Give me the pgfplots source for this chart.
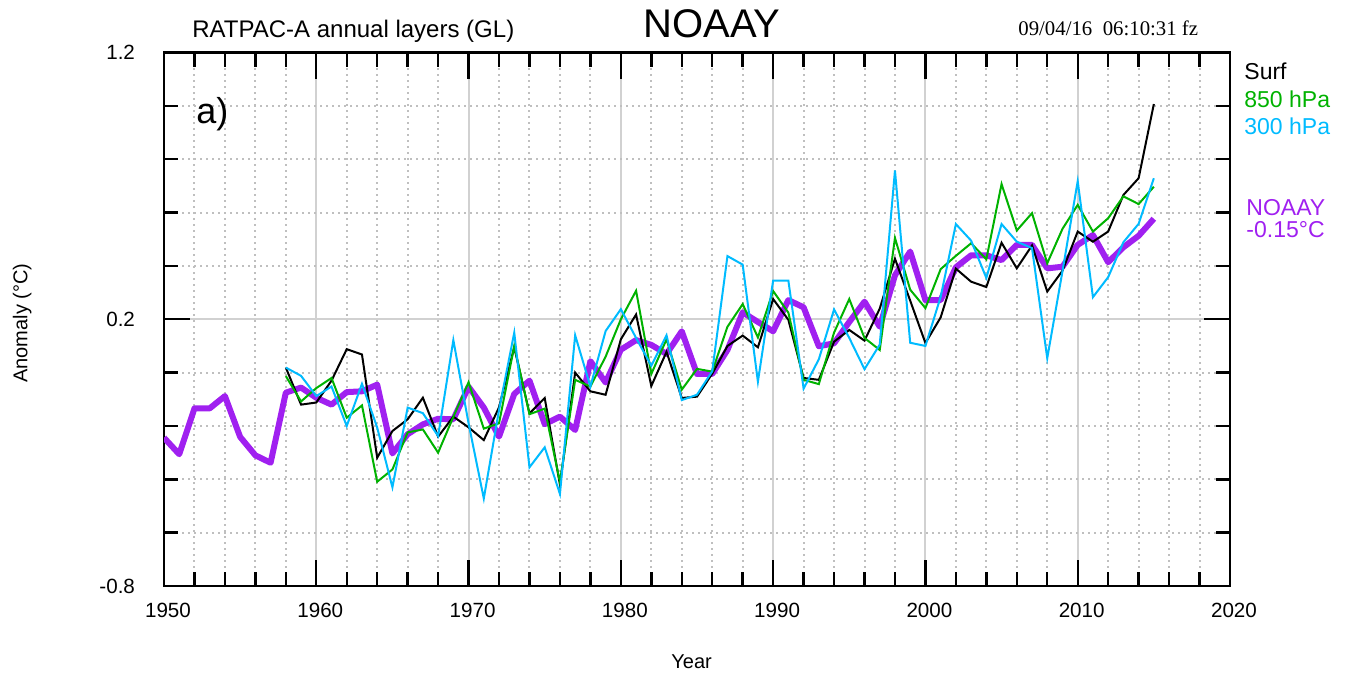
\documentclass[border=0pt]{standalone}
\usepackage{fontspec}
\setmainfont{Liberation Sans}
\newfontfamily\timesfont{Liberation Serif}
\usepackage{pgfplots}
\usepackage{pgfplotstable}
\pgfplotsset{compat=1.18}

\definecolor{hpaE}{RGB}{0,178,0}
\definecolor{hpaT}{RGB}{0,187,255}
\definecolor{noaa}{RGB}{160,32,240}

%% annual anomalies (degC)
\pgfplotstableread{
year val
1950 -0.244
1951 -0.306
1952 -0.134
1953 -0.134
1954 -0.088
1955 -0.241
1956 -0.310
1957 -0.338
1958 -0.075
1959 -0.056
1960 -0.094
1961 -0.120
1962 -0.073
1963 -0.070
1964 -0.045
1965 -0.303
1966 -0.231
1967 -0.194
1968 -0.173
1969 -0.175
1970 -0.053
1971 -0.131
1972 -0.240
1973 -0.080
1974 -0.030
1975 -0.193
1976 -0.165
1977 -0.215
1978 0.043
1979 -0.037
1980 0.086
1981 0.122
1982 0.104
1983 0.070
1984 0.155
1985 -0.005
1986 -0.005
1987 0.085
1988 0.226
1989 0.190
1990 0.155
1991 0.272
1992 0.245
1993 0.099
1994 0.110
1995 0.190
1996 0.266
1997 0.172
1998 0.365
1999 0.454
2000 0.272
2001 0.272
2002 0.395
2003 0.440
2004 0.440
2005 0.422
2006 0.479
2007 0.479
2008 0.391
2009 0.397
2010 0.479
2011 0.516
2012 0.414
2013 0.470
2014 0.513
2015 0.577
}\noaaytab

\pgfplotstableread{
year val
1958 0.019
1959 -0.120
1960 -0.112
1961 -0.030
1962 0.088
1963 0.068
1964 -0.319
1965 -0.219
1966 -0.175
1967 -0.094
1968 -0.240
1969 -0.165
1970 -0.205
1971 -0.253
1972 -0.130
1973 0.095
1974 -0.153
1975 -0.095
1976 -0.420
1977 0.000
1978 -0.070
1979 -0.083
1980 0.125
1981 0.218
1982 -0.050
1983 0.078
1984 -0.095
1985 -0.090
1986 -0.004
1987 0.100
1988 0.139
1989 0.095
1990 0.276
1991 0.198
1992 -0.020
1993 -0.027
1994 0.116
1995 0.160
1996 0.120
1997 0.240
1998 0.427
1999 0.270
2000 0.111
2001 0.207
2002 0.390
2003 0.341
2004 0.321
2005 0.487
2006 0.391
2007 0.477
2008 0.304
2009 0.382
2010 0.529
2011 0.491
2012 0.529
2013 0.666
2014 0.729
2015 1.007
}\surftab

\pgfplotstableread{
year val
1958 -0.013
1959 -0.108
1960 -0.058
1961 -0.020
1962 -0.169
1963 -0.123
1964 -0.409
1965 -0.363
1966 -0.224
1967 -0.213
1968 -0.300
1969 -0.166
1970 -0.036
1971 -0.210
1972 -0.190
1973 0.100
1974 -0.156
1975 -0.135
1976 -0.410
1977 -0.027
1978 -0.052
1979 0.060
1980 0.200
1981 0.307
1982 -0.005
1983 0.125
1984 -0.064
1985 0.014
1986 0.004
1987 0.172
1988 0.257
1989 0.132
1990 0.306
1991 0.225
1992 -0.027
1993 -0.043
1994 0.150
1995 0.276
1996 0.130
1997 0.085
1998 0.505
1999 0.311
2000 0.242
2001 0.388
2002 0.438
2003 0.485
2004 0.425
2005 0.707
2006 0.533
2007 0.598
2008 0.410
2009 0.539
2010 0.629
2011 0.529
2012 0.579
2013 0.661
2014 0.632
2015 0.697
}\hpaEtab

\pgfplotstableread{
year val
1958 0.019
1959 -0.012
1960 -0.088
1961 -0.052
1962 -0.200
1963 -0.042
1964 -0.206
1965 -0.430
1966 -0.131
1967 -0.152
1968 -0.238
1969 0.122
1970 -0.190
1971 -0.472
1972 -0.140
1973 0.150
1974 -0.355
1975 -0.280
1976 -0.455
1977 0.140
1978 -0.052
1979 0.156
1980 0.238
1981 0.130
1982 0.026
1983 0.140
1984 -0.103
1985 -0.083
1986 0.005
1987 0.437
1988 0.405
1989 -0.034
1990 0.345
1991 0.345
1992 -0.060
1993 0.050
1994 0.237
1995 0.130
1996 0.013
1997 0.105
1998 0.758
1999 0.112
2000 0.100
2001 0.284
2002 0.557
2003 0.495
2004 0.355
2005 0.557
2006 0.491
2007 0.467
2008 0.054
2009 0.380
2010 0.718
2011 0.283
2012 0.358
2013 0.489
2014 0.558
2015 0.729
}\hpaTtab

\begin{document}
\begin{tikzpicture}
\useasboundingbox (0,0) rectangle (676.5pt,339.5pt);

%% header
\node[anchor=base west, inner sep=0pt, font=\fontsize{12}{14}\selectfont] at (96pt,320.5pt) {RATPAC-A annual layers (GL)};
\node[anchor=base, inner sep=0pt, font=\fontsize{20}{24}\selectfont] at (356pt,320.5pt) {NOAAY};
\node[anchor=base west, inner sep=0pt, font=\timesfont\fontsize{10.4}{12}\selectfont] at (509pt,321.5pt) {09/04/16\ \ 06:10:31 fz};

\begin{axis}[
    at={(82pt,46.5pt)}, anchor=south west,
    scale only axis,
    width=533pt, height=266.7pt,
    xmin=1950, xmax=2020,
    ymin=-0.8, ymax=1.2,
    xtick={1950,1960,1970,1980,1990,2000,2010,2020},
    xticklabels={1950,1960,1970,1980,1990,2000,2010,2020},
    minor x tick num=4,
    ytick={-0.8,0.2,1.2},
    yticklabels={-0.8,0.2,1.2},
    minor ytick={-0.6,-0.4,-0.2,0,0.4,0.6,0.8,1.0},
    grid=both,
    major grid style={solid, black!18, line width=1pt},
    minor grid style={black!25, line width=1pt, dash pattern=on 1pt off 2pt},
    major tick length=13pt,
    minor tick length=7pt,
    tick style={black, line width=1.2pt},
    axis line style={line width=1.2pt},
    tick label style={font=\fontsize{10.3}{12}\selectfont},
    xticklabel style={yshift=-5pt, xshift=2pt},
    yticklabel style={xshift=-11pt},
    xlabel={Year},
    ylabel={Anomaly (°C)},
    label style={font=\fontsize{12}{14}\selectfont},
    every axis x label/.style={at={(axis description cs:0.495,0)}, anchor=center, yshift=-38pt},
    every axis y label/.style={at={(axis description cs:-0.133,0.493)}, anchor=center, rotate=90},
]
\addplot[noaa, line width=3pt, line join=round] table[x=year, y=val]{\noaaytab};
\addplot[black, line width=1pt] table[x=year, y=val]{\surftab};
\addplot[hpaE, line width=1pt] table[x=year, y=val]{\hpaEtab};
\addplot[hpaT, line width=1pt] table[x=year, y=val]{\hpaTtab};
\node[anchor=base west, inner sep=0pt, font=\fontsize{18}{20}\selectfont] at (axis description cs:0.03,0.868) {a)};
\end{axis}

%% series key on the right
\begin{scope}[every node/.style={anchor=base west, inner sep=0pt, font=\fontsize{11.5}{13}\selectfont}]
\node at (622pt,299.5pt) {Surf};
\node[text=hpaE] at (622pt,285.5pt) {850 hPa};
\node[text=hpaT] at (622pt,272pt) {300 hPa};
\node[text=noaa] at (623pt,231.5pt) {NOAAY};
\node[text=noaa] at (623pt,220.5pt) {-0.15°C};
\end{scope}
\end{tikzpicture}
\end{document}
